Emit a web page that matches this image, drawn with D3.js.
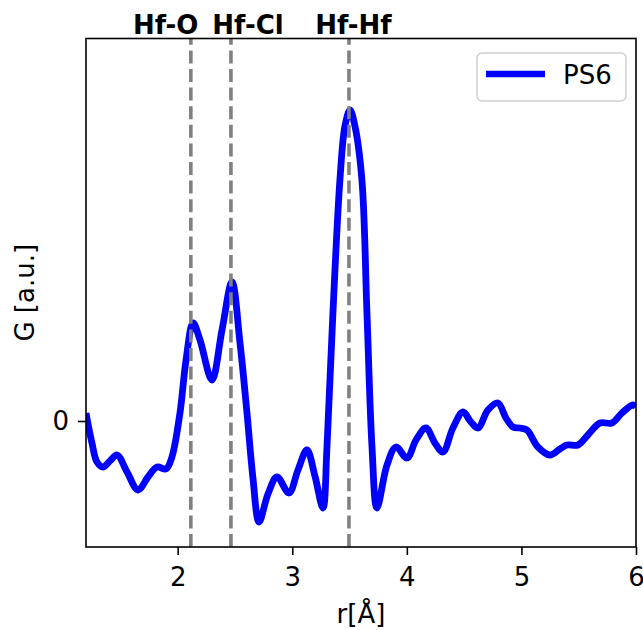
<!DOCTYPE html>
<html>
<head>
<meta charset="utf-8">
<script src="https://cdn.jsdelivr.net/npm/d3@7"></script>
<style>
  html, body { margin: 0; padding: 0; background: #fff; }
  svg { display: block; }
  text { font-family: "DejaVu Sans", sans-serif; }
</style>
</head>
<body>
<svg id="chart" width="643" height="630"></svg>
<script>
// Pair distribution function G(r) for sample PS6
const rValues = [
  1.200, 1.252, 1.296, 1.348, 1.409, 1.471, 1.558, 1.654, 1.741, 1.820,
  1.898, 1.950, 2.020, 2.073, 2.134, 2.195, 2.299, 2.387, 2.474, 2.544,
  2.605, 2.657, 2.710, 2.788, 2.867, 2.971, 3.050, 3.128, 3.198, 3.268,
  3.303, 3.355, 3.416, 3.460, 3.504, 3.547, 3.608, 3.652, 3.696, 3.739,
  3.827, 3.905, 4.001, 4.080, 4.167, 4.245, 4.315, 4.402, 4.490, 4.559,
  4.621, 4.708, 4.795, 4.865, 4.926, 4.987, 5.048, 5.144, 5.249, 5.336,
  5.397, 5.493, 5.580, 5.685, 5.790, 5.877, 5.973, 6.000
];
const gValues = [
   0.08, -0.22, -0.41, -0.46, -0.40, -0.34, -0.51, -0.69, -0.56, -0.46,
  -0.48, -0.36,  0.08,  0.61,  0.98,  0.81,  0.41,  0.91,  1.39,  0.78,
   0.08, -0.57, -1.01, -0.73, -0.56, -0.72, -0.49, -0.29, -0.55, -0.87,
  -0.26,  1.08,  2.41,  2.95,  3.11,  2.95,  2.41,  1.08, -0.26, -0.87,
  -0.44, -0.26, -0.37, -0.19, -0.07, -0.22, -0.31, -0.07,  0.09, -0.01,
  -0.07,  0.11,  0.18,  0.03, -0.06, -0.07, -0.09, -0.26, -0.34, -0.28,
  -0.24, -0.24, -0.14, -0.02, -0.02,  0.08,  0.16,  0.14
];
const seriesName = "PS6";

// Reference bond distances (Å) and their labels
const bondNames = ["Hf-O", "Hf-Cl", "Hf-Hf"];
const bondR = [2.115, 2.465, 3.495];
const bondLabelR = [1.895, 2.614, 3.534];

const xTicks = [2, 3, 4, 5, 6];
const yTicks = [0];
const xDomain = [1.2, 6.0];
const yDomain = [-1.26, 3.825];

const svg = d3.select("#chart");
const plot = { left: 86, right: 636, top: 38.5, bottom: 547 };
const fontSize = 26;

const x = d3.scaleLinear().domain(xDomain).range([plot.left, plot.right]);
const y = d3.scaleLinear().domain(yDomain).range([plot.bottom, plot.top]);

svg.append("defs").append("clipPath").attr("id", "plot-clip")
  .append("rect")
  .attr("x", plot.left).attr("y", plot.top)
  .attr("width", plot.right - plot.left).attr("height", plot.bottom - plot.top);

const points = rValues.map((r, i) => [r, gValues[i]]);

// G(r) curve
svg.append("path")
  .datum(points)
  .attr("clip-path", "url(#plot-clip)")
  .attr("fill", "none")
  .attr("stroke", "#0000ff")
  .attr("stroke-width", 6.8)
  .attr("stroke-linejoin", "round")
  .attr("d", d3.line().x(d => x(d[0])).y(d => y(d[1])).curve(d3.curveCatmullRom.alpha(0.5)));

// Dashed markers at the bond distances (drawn bottom-up)
svg.append("g").selectAll("line")
  .data(bondR)
  .join("line")
  .attr("x1", d => x(d)).attr("x2", d => x(d))
  .attr("y1", plot.bottom).attr("y2", plot.top)
  .attr("stroke", "#808080")
  .attr("stroke-width", 3.6)
  .attr("stroke-dasharray", "13,5.6");

// Bond labels above the frame
svg.append("g").selectAll("text")
  .data(bondNames)
  .join("text")
  .attr("x", (d, i) => x(bondLabelR[i]))
  .attr("y", 34)
  .attr("text-anchor", "middle")
  .attr("font-size", fontSize)
  .attr("font-weight", "bold")
  .text(d => d);

// Axes
const xAxis = svg.append("g")
  .attr("transform", `translate(0,${plot.bottom})`)
  .call(d3.axisBottom(x).tickValues(xTicks).tickFormat(d3.format("d"))
    .tickSizeInner(8).tickSizeOuter(0).tickPadding(13));
const yAxis = svg.append("g")
  .attr("transform", `translate(${plot.left},0)`)
  .call(d3.axisLeft(y).tickValues(yTicks).tickFormat(d3.format("d"))
    .tickSizeInner(8).tickSizeOuter(0).tickPadding(9));

[xAxis, yAxis].forEach(g => {
  g.select(".domain").remove();
  g.selectAll(".tick line").attr("stroke", "#000").attr("stroke-width", 1.6);
  g.selectAll(".tick text")
    .attr("fill", "#000")
    .attr("font-size", fontSize)
    .attr("font-family", "DejaVu Sans, sans-serif");
});

// Frame
svg.append("rect")
  .attr("x", plot.left).attr("y", plot.top)
  .attr("width", plot.right - plot.left).attr("height", plot.bottom - plot.top)
  .attr("fill", "none").attr("stroke", "#000").attr("stroke-width", 1.6);

// Axis titles
svg.append("text")
  .attr("x", (plot.left + plot.right) / 2)
  .attr("y", 623)
  .attr("text-anchor", "middle")
  .attr("font-size", fontSize)
  .text("r[Å]");

svg.append("text")
  .attr("transform", `translate(34,${(plot.top + plot.bottom) / 2}) rotate(-90)`)
  .attr("text-anchor", "middle")
  .attr("font-size", fontSize)
  .text("G [a.u.]");

// Legend
const legend = svg.append("g");
legend.append("rect")
  .attr("x", 477).attr("y", 53)
  .attr("width", 149).attr("height", 48)
  .attr("rx", 5)
  .attr("fill", "#fff").attr("fill-opacity", 0.8)
  .attr("stroke", "#d0d0d0").attr("stroke-width", 1.5);
legend.append("line")
  .attr("x1", 486).attr("x2", 545)
  .attr("y1", 74).attr("y2", 74)
  .attr("stroke", "#0000ff").attr("stroke-width", 6.5);
legend.append("text")
  .attr("x", 563).attr("y", 83.5)
  .attr("font-size", fontSize)
  .text(seriesName);
</script>
</body>
</html>
